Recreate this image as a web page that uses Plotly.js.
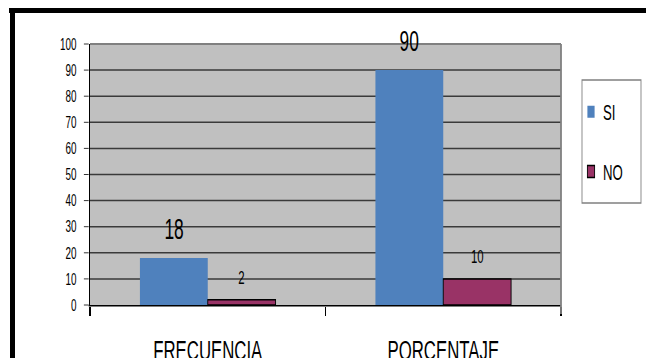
<!DOCTYPE html>
<html>
<head>
<meta charset="utf-8">
<script src="https://cdn.plot.ly/plotly-3.0.1.min.js"></script>
<style>
  html, body { margin: 0; padding: 0; background: #ffffff; overflow: hidden; }
  #frame { width: 646px; height: 358px; overflow: hidden; position: relative; }
  /* the chart is laid out wide and condensed horizontally, giving narrow lettering */
  #chart { position: absolute; left: 0; top: 0; transform: scaleX(0.6); transform-origin: 0 0; }
</style>
</head>
<body>
<div id="frame"><div id="chart"></div></div>
<script>
// Survey answers: counts and percentages
const categories = ["FRECUENCIA", "PORCENTAJE"];
const siValues = [18, 90];
const noValues = [2, 10];
const seriesNames = ["SI", "NO"];
const yTicks = [0, 10, 20, 30, 40, 50, 60, 70, 80, 90, 100];

const FONT = "'Liberation Sans', Arial, sans-serif";

// Horizontal condensing factor (matches the CSS scaleX)
const S = 0.6;
const W = Math.round(646 / S), H = 358;
// margins: plot area spans 90..561 px across, 44..305 px down on screen
const M = { l: Math.round(90 / S), r: W - Math.round(561 / S), t: 44, b: 53, autoexpand: false };
const plotW = W - M.l - M.r;
const plotH = H - M.t - M.b;
const px = x => (x / S - M.l) / plotW;      // screen x -> paper x
const py = y => (H - M.b - y) / plotH;      // screen y -> paper y

const bargap = 0.424;
const barW = (1 - bargap) / 2;              // width of one bar in category units

const siTrace = {
  type: "bar", name: seriesNames[0], legendgroup: "si",
  x: categories, y: siValues,
  marker: { color: "#4f81bd", line: { width: 0 } },
  hoverinfo: "skip"
};
const noTrace = {
  type: "bar", name: seriesNames[1], legendgroup: "no",
  x: categories, y: noValues,
  marker: { color: "#993366", line: { color: "#000000", width: 1.5 } },
  hoverinfo: "skip"
};

// Value labels above each bar
const annotations = [];
categories.forEach((c, i) => {
  annotations.push({
    xref: "x", yref: "y", x: i - barW / 2, y: siValues[i],
    text: String(siValues[i]), showarrow: false,
    yanchor: "middle", yshift: 29,
    font: { family: FONT, size: 29, color: "#000000" }
  });
  annotations.push({
    xref: "x", yref: "y", x: i + barW / 2, y: noValues[i],
    text: String(noValues[i]), showarrow: false,
    yanchor: "middle", yshift: 22,
    font: { family: FONT, size: 19, color: "#000000" }
  });
});

const shapes = [
  // plot frame: top and right edges
  { type: "line", xref: "paper", yref: "paper", x0: 0, x1: 1, y0: 1, y1: 1,
    line: { color: "#808080", width: 2 }, layer: "above" },
  { type: "line", xref: "paper", yref: "paper", x0: 1, x1: 1, y0: py(314), y1: 1,
    line: { color: "#808080", width: 3 }, layer: "above" },
  // legend box
  { type: "rect", xref: "paper", yref: "paper",
    x0: px(582), x1: px(641), y0: py(203), y1: py(80),
    line: { color: "#808080", width: 1.5 }, fillcolor: "rgba(0,0,0,0)" },
  // heavy outer border, top and left
  { type: "rect", xref: "paper", yref: "paper",
    x0: px(9), x1: px(660), y0: py(13), y1: py(8),
    line: { width: 0 }, fillcolor: "#000000" },
  { type: "rect", xref: "paper", yref: "paper",
    x0: px(10), x1: px(15), y0: py(370), y1: py(8),
    line: { width: 0 }, fillcolor: "#000000" }
];

const layout = {
  width: W, height: H,
  margin: M,
  paper_bgcolor: "#ffffff",
  plot_bgcolor: "#c0c0c0",
  barmode: "group",
  bargap: bargap,
  bargroupgap: 0,
  showlegend: true,
  legend: {
    x: px(579), xanchor: "left",
    y: py(91), yanchor: "top",
    bgcolor: "rgba(0,0,0,0)",
    borderwidth: 0,
    tracegroupgap: 28,
    traceorder: "grouped",
    font: { family: FONT, size: 22, color: "#000000" }
  },
  xaxis: {
    type: "category",
    tickson: "boundaries",
    ticks: "outside", ticklen: 9, tickwidth: 1.7, tickcolor: "#000000",
    showline: true, linecolor: "#000000", linewidth: 1.5,
    showgrid: false,
    ticklabelstandoff: 20,
    tickfont: { family: FONT, size: 28, color: "#000000" },
    fixedrange: true
  },
  yaxis: {
    range: [0, 100],
    tickvals: yTicks,
    ticktext: yTicks.map(String),
    ticks: "outside", ticklen: 8, tickwidth: 1, tickcolor: "#000000",
    showline: true, linecolor: "#000000", linewidth: 2.2,
    showgrid: true, gridcolor: "#3a3a3a", gridwidth: 1.5,
    zeroline: false,
    ticklabelstandoff: 9,
    tickfont: { family: FONT, size: 16.5, color: "#000000" },
    fixedrange: true
  },
  annotations: annotations,
  shapes: shapes
};

Plotly.newPlot("chart", [siTrace, noTrace], layout, { displayModeBar: false, staticPlot: true });
</script>
</body>
</html>
